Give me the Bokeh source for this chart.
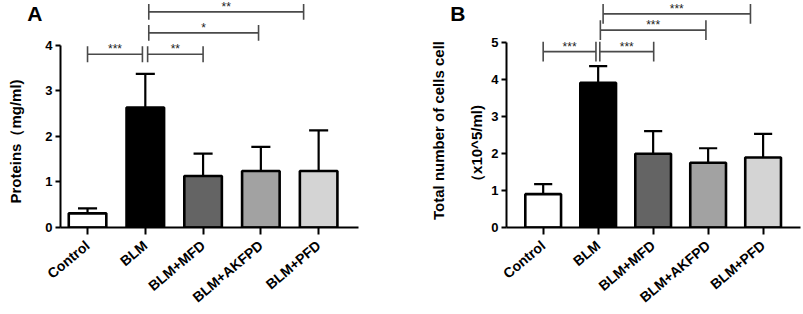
import math
from bokeh.plotting import figure
from bokeh.layouts import row
from bokeh.models import FixedTicker, ColumnDataSource, LinearAxis
from bokeh.core.properties import value
from bokeh.embed import file_html
from bokeh.resources import INLINE

categories = ["Control", "BLM", "BLM+MFD", "BLM+AKFPD", "BLM+PFD"]
bar_colors = ["#ffffff", "#000000", "#646464", "#a2a2a2", "#d4d4d4"]

# Panel A: protein concentration (mg/ml)
protein_mean = [0.31, 2.63, 1.13, 1.24, 1.24]
protein_err = [0.11, 0.74, 0.49, 0.53, 0.89]
# brackets: (x_left, x_right, y, label)
protein_brackets = [
    (0.0, 0.95, 3.80, "***"),
    (1.04, 2.0, 3.80, "**"),
    (1.06, 2.96, 4.27, "*"),
    (1.06, 3.74, 4.73, "**"),
]

# Panel B: total cells (x10^5/ml)
cells_mean = [0.90, 3.91, 1.99, 1.75, 1.89]
cells_err = [0.27, 0.45, 0.61, 0.39, 0.64]
cells_brackets = [
    (0.0, 0.96, 4.75, "***"),
    (1.03, 2.01, 4.75, "***"),
    (1.04, 2.96, 5.33, "***"),
    (1.09, 3.77, 5.77, "***"),
]

FONT = "Liberation Sans"
PAD = "\u2800"


def style_label(ax, text, standoff):
    ax.axis_label = text
    ax.axis_label_text_font = FONT
    ax.axis_label_text_font_style = "bold"
    ax.axis_label_text_font_size = "15px"
    ax.axis_label_text_color = "black"
    ax.axis_label_standoff = standoff


def make_panel(means, errs, brackets, inner_label, outer_label, letter, letter_y,
               ymax_axis, y_range, x_range, width, border_left, border_right,
               tick_px, px_per_unit):
    p = figure(width=width, height=314, x_range=x_range, y_range=y_range,
               output_backend="svg", toolbar_location=None,
               min_border_left=border_left, min_border_right=border_right,
               min_border_top=0, min_border_bottom=86)
    p.outline_line_color = None
    p.xgrid.visible = False
    p.ygrid.visible = False

    xs = list(range(len(categories)))
    src = ColumnDataSource(dict(x=xs, top=means, color=bar_colors,
                                err_top=[m + e for m, e in zip(means, errs)],
                                cap_l=[x - 0.165 for x in xs],
                                cap_r=[x + 0.165 for x in xs]))
    p.segment(x0="x", y0="top", x1="x", y1="err_top", source=src,
              line_color="black", line_width=2.2)
    p.segment(x0="cap_l", y0="err_top", x1="cap_r", y1="err_top", source=src,
              line_color="black", line_width=2.2)
    p.vbar(x="x", top="top", width=0.65, bottom=0, source=src,
           fill_color="color", line_color="black", line_width=2.6)

    tick_h = tick_px / px_per_unit
    star_off = 12.0 / px_per_unit
    bl = [b[0] for b in brackets]
    br = [b[1] for b in brackets]
    by = [b[2] for b in brackets]
    bt = [b[3] for b in brackets]
    bsrc = ColumnDataSource(dict(l=bl, r=br, y=by,
                                 y0=[y - tick_h for y in by],
                                 y1=[y + tick_h for y in by],
                                 mid=[(a + b) / 2 for a, b in zip(bl, br)],
                                 ty=[y + star_off for y in by],
                                 t=bt))
    bc = "#4a4a4a"
    p.segment(x0="l", y0="y", x1="r", y1="y", source=bsrc, line_color=bc, line_width=1.6)
    p.segment(x0="l", y0="y0", x1="l", y1="y1", source=bsrc, line_color=bc, line_width=1.6)
    p.segment(x0="r", y0="y0", x1="r", y1="y1", source=bsrc, line_color=bc, line_width=1.6)
    p.text(x="mid", y="ty", text="t", source=bsrc, text_align="center",
           text_baseline="top", text_font=value(FONT), text_font_size="12px",
           text_color="#222222")

    p.xaxis.ticker = FixedTicker(ticks=xs)
    p.xaxis.major_label_overrides = {i: c for i, c in enumerate(categories)}
    p.xaxis.major_label_orientation = math.radians(40)
    p.yaxis.ticker = FixedTicker(ticks=list(range(0, ymax_axis + 1)))
    p.yaxis.bounds = (0, ymax_axis)
    for ax in (p.xaxis[0], p.yaxis[0]):
        ax.axis_line_width = 2
        ax.axis_line_color = "black"
        ax.major_tick_line_width = 2
        ax.major_tick_line_color = "black"
        ax.minor_tick_line_color = None
        ax.major_tick_in = 0
        ax.major_label_text_font = FONT
        ax.major_label_text_font_style = "bold"
        ax.major_label_text_color = "black"
    p.xaxis.major_tick_out = 7
    p.yaxis.major_tick_out = 5
    p.xaxis.major_label_text_font_size = "14px"
    p.xaxis.major_label_standoff = 9
    p.yaxis.major_label_text_font_size = "13px"
    p.yaxis.major_label_standoff = 3
    if inner_label:
        style_label(p.yaxis[0], inner_label, 3)

    # outer left axis: panel letter (as its single tick label) and outer label line
    outer = LinearAxis(ticker=FixedTicker(ticks=[letter_y]),
                       major_label_overrides={letter_y: letter},
                       axis_line_color=None, major_tick_out=0, major_tick_in=0,
                       minor_tick_line_color=None, major_tick_line_color=None,
                       major_label_standoff=0)
    outer.major_label_text_font = FONT
    outer.major_label_text_font_style = "bold"
    outer.major_label_text_font_size = "21px"
    outer.major_label_text_color = "black"
    style_label(outer, outer_label, 0)
    p.add_layout(outer, "left")
    return p


pA = make_panel(protein_mean, protein_err, protein_brackets,
                None, "Proteins（mg/ml)" + PAD * 5, "A", 4.7,
                4, (0, 4.98), (-0.468, 4.69), 400, 60, 42, 8, 45.8)
pB = make_panel(cells_mean, cells_err, cells_brackets,
                "（x10^5/ml)" + PAD * 6, "Total number of cells cell" + PAD * 3, "B", 5.78,
                5, (0, 6.13), (-0.667, 4.68), 403, 106, 3, 10, 37.2)

layout = row(pA, pB)
open("out.html", "w").write(file_html(layout, INLINE))
